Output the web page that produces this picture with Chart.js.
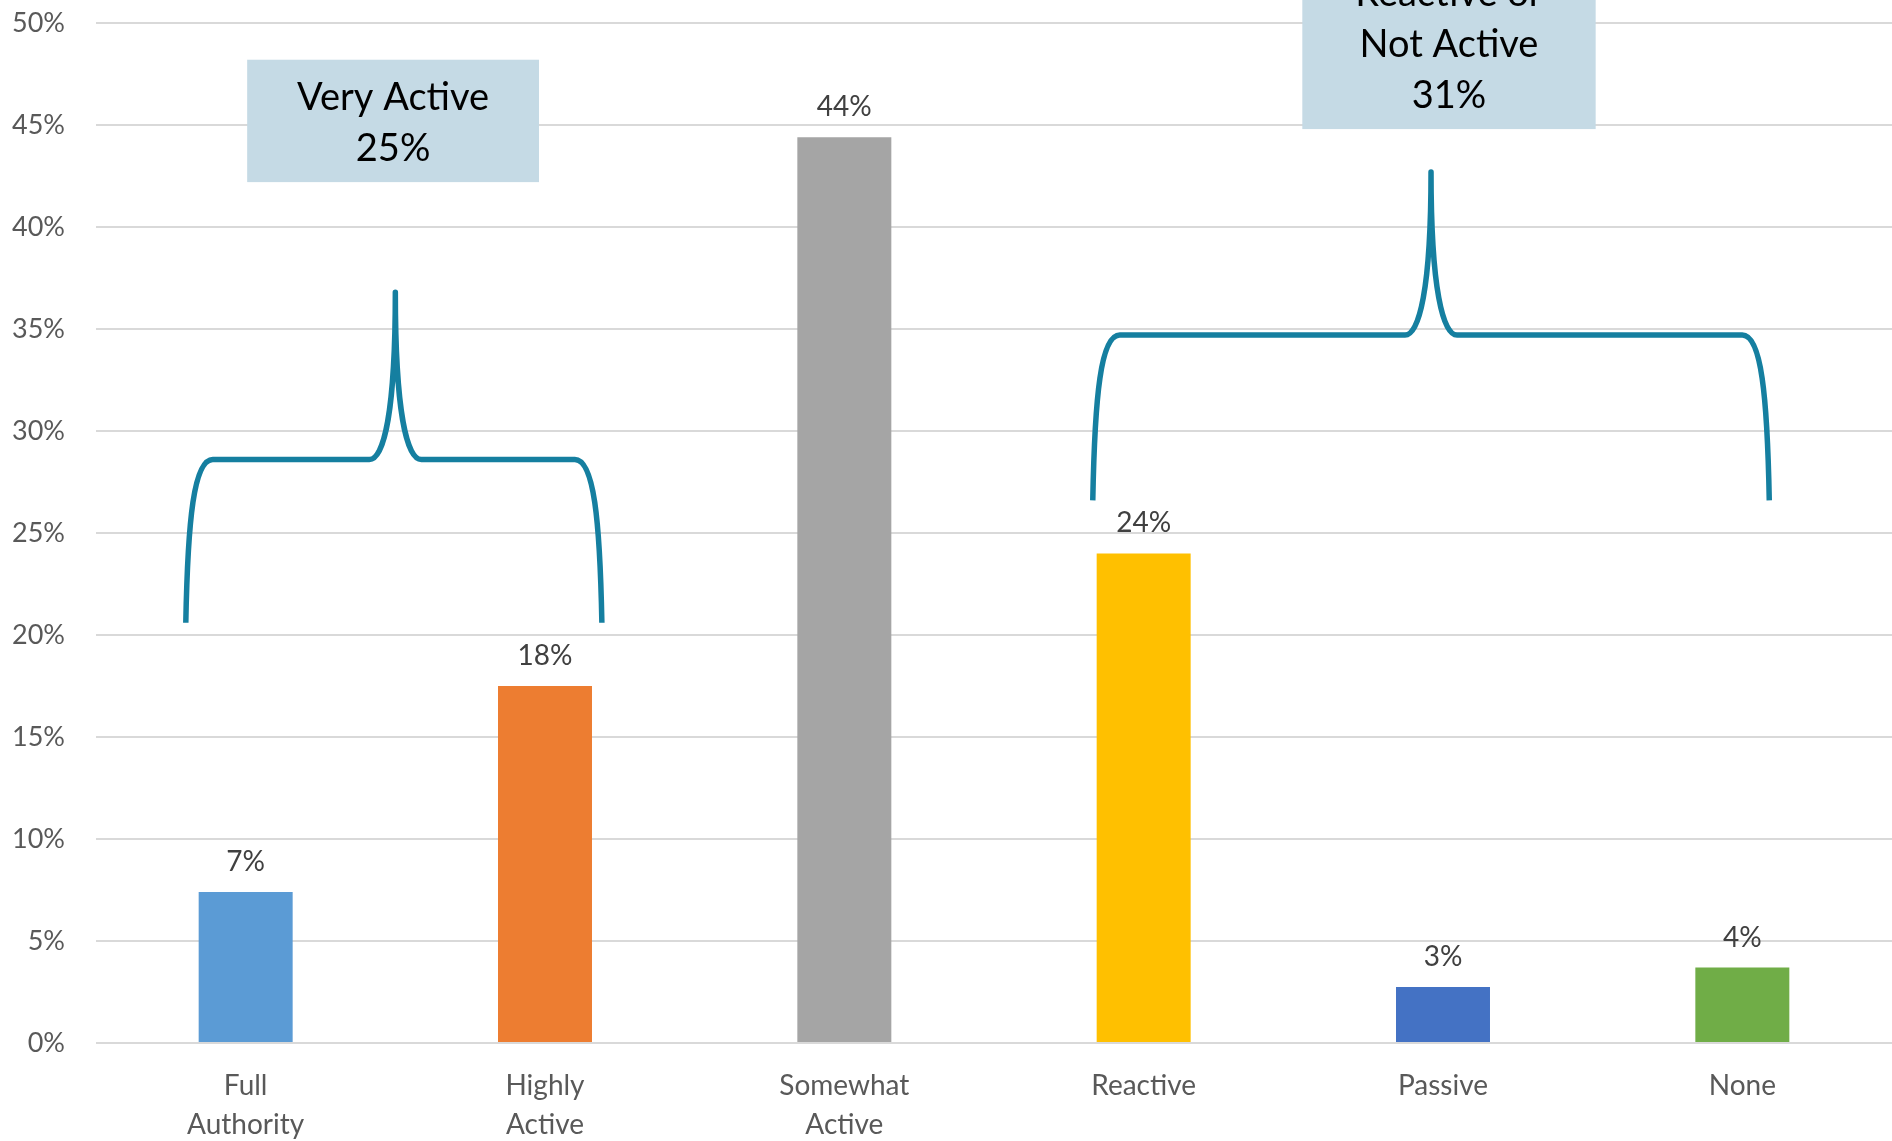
<!DOCTYPE html>
<html>
<head>
<meta charset="utf-8">
<script src="https://cdn.jsdelivr.net/npm/chart.js@4/dist/chart.umd.min.js"></script>
<style>
  html, body { margin: 0; padding: 0; background: #ffffff; }
  #wrap { width: 1892px; height: 1141px; position: relative; }
</style>
</head>
<body>
<div id="wrap"><canvas id="chart"></canvas></div>
<script>
// Share of respondents by level of involvement
const categories = [['Full', 'Authority'], ['Highly', 'Active'], ['Somewhat', 'Active'], ['Reactive'], ['Passive'], ['None']];
const shares = [7.4, 17.5, 44.4, 24.0, 2.75, 3.7];
const barColors = ['#5B9BD5', '#ED7D31', '#A5A5A5', '#FFC000', '#4472C4', '#70AD47'];
const yTicks = [0, 5, 10, 15, 20, 25, 30, 35, 40, 45, 50];

// Groupings shown with a curly brace and a caption box
const groupTitles = [['Very Active'], ['Reactive or', 'Not Active']];
const groupMembers = [[0, 1], [3, 4, 5]];

const pct = v => Math.round(v) + '%';
const groupTotal = idx => idx.reduce((s, i) => s + Math.round(shares[i]), 0);

// Brace / box placement in axis units (category index, percent)
const braceSpec = [
  { left: -0.2, right: 1.19, tip: 0.5, base: 20.6, arm: 28.6, peak: 36.8 },
  { left: 2.83, right: 5.09, tip: 3.96, base: 26.6, arm: 34.7, peak: 42.7 }
];
const boxSpec = [
  { left: 0.005, right: 0.98, top: 48.2, bottom: 42.2 },
  { left: 3.53, right: 4.51, top: 53.3, bottom: 44.8 }
];

const FONT = 'Lato, "Noto Sans", sans-serif';

const valueLabels = {
  id: 'valueLabels',
  afterDatasetsDraw(chart) {
    const ctx = chart.ctx;
    const meta = chart.getDatasetMeta(0);
    ctx.save();
    ctx.font = '28px ' + FONT;
    ctx.fillStyle = '#404040';
    ctx.textAlign = 'center';
    ctx.textBaseline = 'middle';
    meta.data.forEach((bar, i) => {
      ctx.fillText(pct(shares[i]), bar.x, bar.y - 30);
    });
    ctx.restore();
  }
};

const groupBraces = {
  id: 'groupBraces',
  afterDraw(chart) {
    const ctx = chart.ctx;
    const xs = chart.scales.x, ys = chart.scales.y;
    const X = v => xs.getPixelForValue(v);
    const Y = v => ys.getPixelForValue(v);
    ctx.save();
    // braces
    ctx.strokeStyle = '#157FA0';
    ctx.lineWidth = 5.5;
    ctx.lineJoin = 'round';
    braceSpec.forEach(b => {
      const xl = X(b.left), xr = X(b.right), xt = X(b.tip);
      const yb = Y(b.base), ya = Y(b.arm), yp = Y(b.peak);
      const c = 27, m = 26;
      ctx.beginPath();
      ctx.moveTo(xl, yb);
      ctx.bezierCurveTo(xl + 2, ya + 60, xl + 8, ya, xl + c, ya);
      ctx.lineTo(xt - m, ya);
      ctx.bezierCurveTo(xt - m + 14, ya, xt, ya - 45, xt, yp);
      ctx.bezierCurveTo(xt, ya - 45, xt + m - 14, ya, xt + m, ya);
      ctx.lineTo(xr - c, ya);
      ctx.bezierCurveTo(xr - 8, ya, xr - 2, ya + 60, xr, yb);
      ctx.stroke();
    });
    // caption boxes
    boxSpec.forEach((bx, i) => {
      const x0 = X(bx.left), x1 = X(bx.right), y0 = Y(bx.top), y1 = Y(bx.bottom);
      ctx.fillStyle = '#C5DAE5';
      ctx.fillRect(x0, y0, x1 - x0, y1 - y0);
      const lines = groupTitles[i].concat([groupTotal(groupMembers[i]) + '%']);
      const lh = 51;
      const cy = (y0 + y1) / 2;
      const cx = (x0 + x1) / 2;
      ctx.fillStyle = '#000000';
      ctx.font = '38px ' + FONT;
      ctx.textAlign = 'center';
      ctx.textBaseline = 'middle';
      lines.forEach((t, k) => {
        ctx.fillText(t, cx, cy + 2 + (k - (lines.length - 1) / 2) * lh);
      });
    });
    ctx.restore();
  }
};

new Chart(document.getElementById('chart'), {
  type: 'bar',
  data: {
    labels: categories,
    datasets: [{
      data: shares,
      backgroundColor: barColors,
      borderWidth: 0,
      categoryPercentage: 1.0,
      barPercentage: 0.314
    }]
  },
  options: {
    responsive: true,
    maintainAspectRatio: false,
    animation: false,
    layout: { padding: { top: 23, right: 0, left: 0, bottom: 0 } },
    plugins: { legend: { display: false }, tooltip: { enabled: false } },
    scales: {
      x: {
        grid: { display: false, drawTicks: false },
        border: { display: false },
        ticks: {
          color: '#595959',
          font: { family: FONT, size: 28, lineHeight: 1.37 },
          padding: 24,
          maxRotation: 0,
          autoSkip: false
        },
        afterFit(scale) {
          scale.height = 98;
          scale.paddingLeft = 0;
          scale.paddingRight = 0;
        }
      },
      y: {
        min: 0,
        max: 50,
        afterBuildTicks(scale) { scale.ticks = yTicks.map(v => ({ value: v })); },
        grid: { color: '#D9D9D9', lineWidth: 2, drawTicks: false },
        border: { display: false },
        ticks: {
          color: '#595959',
          font: { family: FONT, size: 27 },
          padding: 31,
          callback: v => v + '%'
        },
        afterFit(scale) {
          scale.width = 96;
          scale.paddingTop = 0;
          scale.paddingBottom = 0;
        }
      }
    }
  },
  plugins: [valueLabels, groupBraces]
});
</script>
</body>
</html>
